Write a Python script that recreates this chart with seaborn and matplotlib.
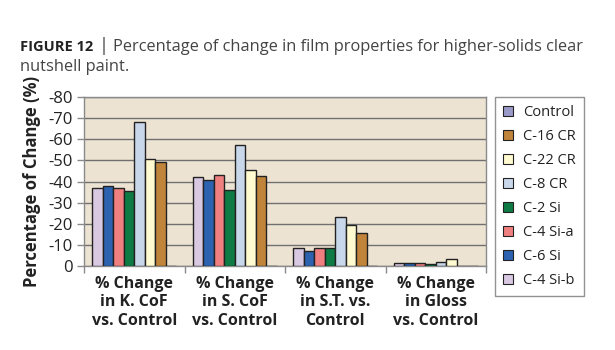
import seaborn as sns
import matplotlib.pyplot as plt
import pandas as pd
from matplotlib.patches import Patch

# categories (x groups)
groups = ['% Change\nin K. CoF\nvs. Control', '% Change\nin S. CoF\nvs. Control',
          '% Change\nin S.T. vs.\nControl', '% Change\nin Gloss\nvs. Control']

# series in bar order (left to right inside a group)
series = ['C-4 Si-b', 'C-6 Si', 'C-4 Si-a', 'C-2 Si', 'C-8 CR', 'C-22 CR', 'C-16 CR', 'Control']
c4sib = [-37, -42, -8.5, -1.3]
c6si = [-38, -40.5, -7, -1.5]
c4sia = [-37, -43, -8.5, -1.5]
c2si = [-35.5, -36, -8.3, -0.8]
c8cr = [-68, -57.5, -23, -2]
c22cr = [-50.5, -45.5, -19.5, -3.3]
c16cr = [-49, -42.5, -15.5, 0]
control = [0, 0, 0, 0]

legend_order = ['Control', 'C-16 CR', 'C-22 CR', 'C-8 CR', 'C-2 Si', 'C-4 Si-a', 'C-6 Si', 'C-4 Si-b']

colors = {'Control': '#9a9ac8', 'C-16 CR': '#c0843a', 'C-22 CR': '#fffad0',
          'C-8 CR': '#c9d7ea', 'C-2 Si': '#0e7b45', 'C-4 Si-a': '#f08080',
          'C-6 Si': '#2c62b0', 'C-4 Si-b': '#d9c8e2'}

vals = [c4sib, c6si, c4sia, c2si, c8cr, c22cr, c16cr, control]
rows = []
for s, v in zip(series, vals):
    for g, x in zip(groups, v):
        rows.append({'group': g, 'series': s, 'value': x})
df = pd.DataFrame(rows)

sns.set_theme(style='white')
plt.rcParams['font.family'] = ['Open Sans', 'DejaVu Sans']

fig = plt.figure(figsize=(6.15, 3.5), dpi=100)
ax = fig.add_axes([84 / 615, 1 - 266 / 350, (486 - 84) / 615, (266 - 97) / 350])
ax.set_facecolor('#ede3d2')

sns.barplot(data=df, x='group', y='value', hue='series', hue_order=series,
            palette=colors, saturation=1, width=0.84, edgecolor='#222222',
            linewidth=1.0, legend=False, ax=ax, zorder=3)

ax.set_ylim(0, -80)
ax.set_yticks(range(0, -81, -10))
ax.set_yticklabels([str(t) for t in range(0, -81, -10)])
ax.set_xlim(-0.5, 3.5)
ax.grid(axis='y', color='#707070', linewidth=1.0, zorder=0)
ax.set_axisbelow(True)
for sp in ax.spines.values():
    sp.set_color('#8a8a8a')
    sp.set_linewidth(1.0)

ax.tick_params(axis='y', which='major', length=5, width=1, color='#8a8a8a',
               labelsize=12, labelcolor='#222222', pad=3, left=True)
ax.tick_params(axis='x', which='major', length=0, labelsize=11.5, pad=7)
ax.set_xticks([-0.5, 0.5, 1.5, 2.5, 3.5], minor=True)
ax.tick_params(axis='x', which='minor', length=5, width=1, color='#8a8a8a', bottom=True)
for lab in ax.get_xticklabels():
    lab.set_fontweight('bold')
    lab.set_color('#222222')
    lab.set_linespacing(1.2)

ax.set_xlabel('')
ax.set_ylabel('Percentage of Change (%)', fontsize=12, fontweight='bold',
              color='#222222', labelpad=5)

handles = [Patch(facecolor=colors[s], edgecolor='#222222', linewidth=0.8) for s in legend_order]
leg = fig.legend(handles, legend_order, loc='upper left',
                 bbox_to_anchor=(494.5 / 615, 1 - 97 / 350), frameon=True,
                 fancybox=False, edgecolor='#777777', fontsize=10.5,
                 handlelength=0.7, handleheight=0.7, handletextpad=0.7,
                 labelspacing=0.62, borderpad=0.55, borderaxespad=0)
leg.get_frame().set_linewidth(1.0)
for t in leg.get_texts():
    t.set_color('#222222')

# title pieces laid out one after another
fig_lab = fig.text(20 / 615, 1 - 51 / 350, 'FIGURE 12', fontsize=10.5, fontweight='bold',
                   color='#222222', va='baseline', ha='left')
fig.canvas.draw()
x_bar = fig_lab.get_window_extent().x1 + 5
bar = fig.text(x_bar / 615, 1 - 51 / 350, '|', fontsize=13, color='#444444',
               va='baseline', ha='left')
fig.canvas.draw()
x_txt = bar.get_window_extent().x1 + 5
title = fig.text(x_txt / 615, 1 - 51 / 350,
                 'Percentage of change in film properties for higher-solids clear',
                 fontsize=12.2, color='#444444', va='baseline', ha='left')
fig.canvas.draw()
tw = title.get_window_extent().width
fs = 12.2 * min(1.0, (585 - x_txt) / tw)
title.set_fontsize(fs)
fig.text(20 / 615, 1 - 71 / 350, 'nutshell paint.', fontsize=fs, color='#444444',
         va='baseline', ha='left')

fig.savefig('out.png', dpi=100, facecolor='white')
